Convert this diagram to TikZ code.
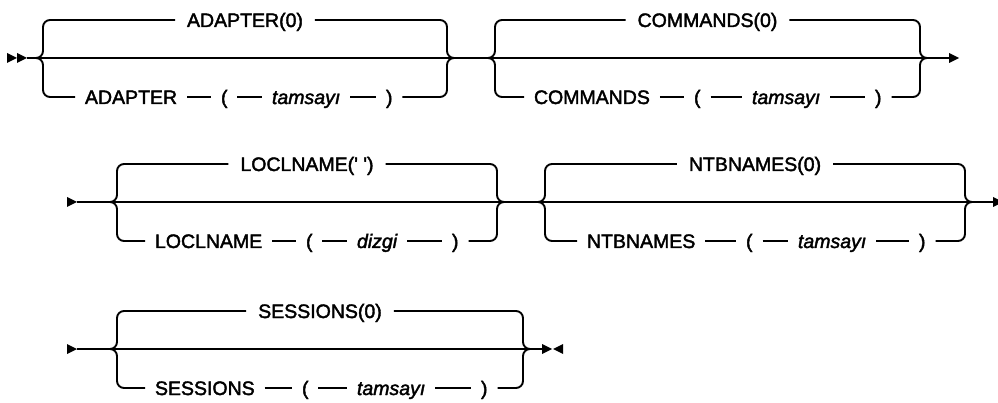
\documentclass[tikz,border=0pt]{standalone}
\usepackage{fontspec}
\setmainfont{Liberation Sans}[FakeBold=2]
\newcommand{\lblfont}{\fontsize{19.5pt}{23pt}\selectfont}
\tikzset{
  lbl/.style={font=\lblfont, inner sep=0pt, outer xsep=10pt, text height=14pt, text depth=0pt, anchor=base west},
  toplbl/.style={lbl, outer xsep=12pt, anchor=base},
  argf/.style={font=\lblfont\itshape},
  rail/.style={line width=1.9pt},
  curve/.style={rail, rounded corners=7pt},
  railmark/.style={fill=black}
}
% frame of one choice group
\newcommand{\synframe}[5]{%
  \coordinate (#1-jl) at (#2-7,#4);
  \coordinate (#1-jr) at (#3+7,#4);
  \coordinate (#1-ml) at (#2,#4);
  \coordinate (#1-mr) at (#3,#4);
  \coordinate (#1-tl) at (#2,#4-38);
  \coordinate (#1-tr) at (#3,#4-38);
  \coordinate (#1-bl) at (#2,#4+39);
  \coordinate (#1-br) at (#3,#4+39);
  \node[toplbl] (#1-top) at ({(#2+#3)/2},#4-31) {#5};
  \draw[rail] (#1-jl) -- (#1-jr);
  \draw[curve] (#1-jl) -- (#1-ml) -- (#1-tl) -- (#1-top.west);
  \draw[curve] (#1-top.east) -- (#1-tr) -- (#1-mr) -- (#1-jr);
}
% lower branch: keyword ( arg )
\newcommand{\synchain}[8]{%
  \node[lbl] (#1-kw) at (#4-10,#2+46) {#3};
  \node[lbl] (#1-lp) at (#5-10,#2+46) {(};
  \node[lbl,argf] (#1-arg) at (#7-10,#2+46) {#6};
  \node[lbl] (#1-rp) at (#8-10,#2+46) {)};
  \draw[curve] (#1-jl) -- (#1-ml) -- (#1-bl) -- (#1-kw.west);
  \draw[rail] (#1-kw) -- (#1-lp);
  \draw[rail] (#1-lp) -- (#1-arg);
  \draw[rail] (#1-arg) -- (#1-rp);
  \draw[curve] (#1-rp.east) -- (#1-br) -- (#1-mr) -- (#1-jr);
}
\newcommand{\rtri}[2]{\fill[railmark] (#1,#2-5) -- (#1+10,#2) -- (#1,#2+5) -- cycle;}
\newcommand{\ltri}[2]{\fill[railmark] (#1+10,#2-5) -- (#1,#2) -- (#1+10,#2+5) -- cycle;}
\begin{document}
\begin{tikzpicture}[x=1pt,y=-1pt]
\fill[white] (0,0) rectangle (998,403);
\useasboundingbox (0,0) rectangle (998,403);

% ---- row 1
\synframe{a}{43}{447}{58}{ADAPTER(0)}
\synchain{a}{58}{ADAPTER}{85}{221}{tamsayı}{272}{386}
\synframe{c}{495}{920}{58}{COMMANDS(0)}
\synchain{c}{58}{COMMANDS}{534}{694}{tamsayı}{752}{875}
\coordinate (s1) at (27,58);
\coordinate (e1) at (949,58);
\rtri{7}{58}
\rtri{17}{58}
\draw[rail] (s1) -- (a-jl);
\draw[rail] (a-jr) -- (c-jl);
\draw[rail] (c-jr) -- (e1);
\rtri{949}{58}

% ---- row 2
\synframe{l}{117}{497}{202}{LOCLNAME(\textquotesingle\ \textquotesingle)}
\synchain{l}{202}{LOCLNAME}{155}{306}{dizgi}{357}{452}
\synframe{n}{545}{965}{202}{NTBNAMES(0)}
\synchain{n}{202}{NTBNAMES}{587}{746}{tamsayı}{798}{919}
\coordinate (s2) at (77,202);
\coordinate (e2) at (993,202);
\rtri{67}{202}
\draw[rail] (s2) -- (l-jl);
\draw[rail] (l-jr) -- (n-jl);
\draw[rail] (n-jr) -- (e2);
\rtri{993}{202}

% ---- row 3
\synframe{s}{117}{523}{349}{SESSIONS(0)}
\synchain{s}{349}{SESSIONS}{155}{302}{tamsayı}{357}{481}
\coordinate (s3) at (77,349);
\coordinate (e3) at (542,349);
\rtri{67}{349}
\draw[rail] (s3) -- (s-jl);
\draw[rail] (s-jr) -- (e3);
\rtri{542}{349}
\ltri{553}{349}
\end{tikzpicture}
\end{document}
